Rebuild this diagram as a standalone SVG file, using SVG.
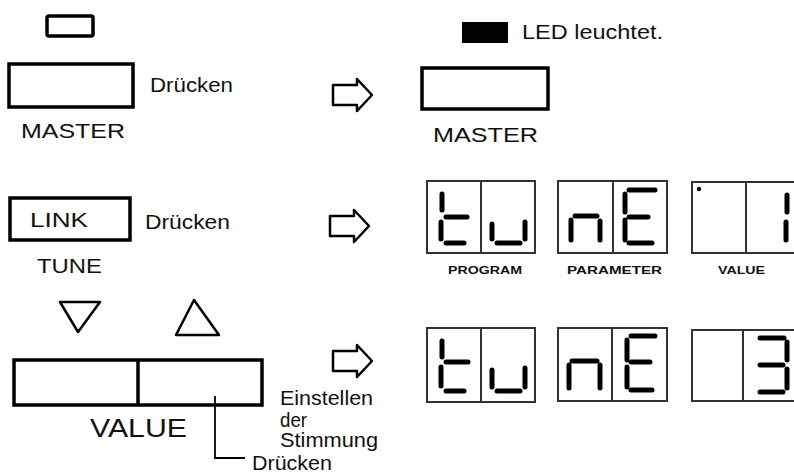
<svg xmlns="http://www.w3.org/2000/svg" width="794" height="474" viewBox="0 0 794 474">
<style>
text{font-family:"Liberation Sans",Arial,sans-serif;fill:#111}
.t{font-size:20px}
.lbl{font-size:10px;font-weight:bold}
.btn{fill:none;stroke:#000;stroke-width:3.5}
.disp{fill:none;stroke:#333;stroke-width:2}
.div{stroke:#333;stroke-width:2}
.seg{stroke:#000;stroke-width:5;stroke-linecap:round}
.arr{fill:#fff;stroke:#000;stroke-width:2.5;stroke-linejoin:round}
.tri{fill:none;stroke:#000;stroke-width:2.5;stroke-linejoin:round}
.ln{fill:none;stroke:#000;stroke-width:1.8}
</style>
<defs>
<path id="arrow" d="M0,-10 H24 V-16 L39,0 L24,16 V10 H0 Z"/>
</defs>

<g id="led-indicator">
<rect class="btn" x="47" y="16" width="46" height="20" rx="2"/>
</g>
<g id="master-left">
<rect class="btn" x="9" y="64" width="124" height="43"/>
<text class="t" x="21" y="138" font-size="21" textLength="104" lengthAdjust="spacingAndGlyphs">MASTER</text>
</g>
<text class="t" x="150" y="92" textLength="83" lengthAdjust="spacingAndGlyphs">Drücken</text>

<g id="led-legend">
<rect x="462" y="22" width="46" height="21" fill="#000"/>
<text class="t" x="522" y="39" textLength="141" lengthAdjust="spacingAndGlyphs">LED leuchtet.</text>
</g>
<g id="master-right">
<rect class="btn" x="422" y="68" width="126" height="41"/>
<text class="t" x="433" y="142" font-size="21" textLength="105" lengthAdjust="spacingAndGlyphs">MASTER</text>
</g>

<g id="link-tune">
<rect class="btn" x="10" y="198" width="120" height="42"/>
<text class="t" x="30" y="227" font-size="21" textLength="58" lengthAdjust="spacingAndGlyphs">LINK</text>
<text class="t" x="37" y="273" textLength="65" lengthAdjust="spacingAndGlyphs">TUNE</text>
</g>
<text class="t" x="145" y="229" textLength="85" lengthAdjust="spacingAndGlyphs">Drücken</text>

<g id="value-buttons">
<polygon class="tri" points="60,302 100,302 78,332"/>
<polygon class="tri" points="194,300 176,335 219,335"/>
<rect class="btn" x="14" y="360" width="248" height="45"/>
<line class="btn" x1="138" y1="360" x2="138" y2="405"/>
<text x="90" y="437" font-size="25" textLength="97" lengthAdjust="spacingAndGlyphs">VALUE</text>
</g>
<text class="t" x="280" y="405" font-size="18" textLength="93" lengthAdjust="spacingAndGlyphs">Einstellen</text>
<text class="t" x="280" y="427" font-size="18" textLength="27" lengthAdjust="spacingAndGlyphs">der</text>
<text class="t" x="280" y="447" font-size="18" textLength="98" lengthAdjust="spacingAndGlyphs">Stimmung</text>
<text class="t" x="252" y="470" font-size="16" textLength="80" lengthAdjust="spacingAndGlyphs">Drücken</text>

<g id="connectors">
<use href="#arrow" class="arr" transform="translate(333,95)"/>
<use href="#arrow" class="arr" transform="translate(330,226)"/>
<use href="#arrow" class="arr" transform="translate(333,361)"/>
<polyline class="ln" points="215,396 215,458 245,458"/>
</g>

<g id="display-row1">
<g id="d1-program">
<rect class="disp" x="427" y="181" width="108" height="72"/>
<line class="div" x1="481" y1="181" x2="481" y2="253"/>
<line class="seg" x1="442" y1="194" x2="442" y2="210"/>
<line class="seg" x1="446" y1="217" x2="467" y2="217"/>
<line class="seg" x1="441" y1="222" x2="441" y2="239"/>
<line class="seg" x1="446" y1="243" x2="464" y2="243"/>
<line class="seg" x1="492" y1="224" x2="492" y2="239"/>
<line class="seg" x1="525" y1="222" x2="525" y2="239"/>
<line class="seg" x1="497" y1="243" x2="520" y2="243"/>
<text class="lbl" x="448" y="274" textLength="74" lengthAdjust="spacingAndGlyphs">PROGRAM</text>
</g>
<g id="d1-parameter">
<rect class="disp" x="558" y="181" width="109" height="72"/>
<line class="div" x1="613" y1="181" x2="613" y2="253"/>
<line class="seg" x1="571" y1="220" x2="571" y2="240"/>
<line class="seg" x1="575" y1="216" x2="597" y2="216"/>
<line class="seg" x1="600" y1="221" x2="600" y2="240"/>
<line class="seg" x1="625" y1="194" x2="625" y2="212"/>
<line class="seg" x1="625" y1="220" x2="625" y2="240"/>
<line class="seg" x1="629" y1="190" x2="655" y2="190"/>
<line class="seg" x1="629" y1="217" x2="648" y2="217"/>
<line class="seg" x1="629" y1="243" x2="652" y2="243"/>
<text class="lbl" x="567" y="274" textLength="95" lengthAdjust="spacingAndGlyphs">PARAMETER</text>
</g>
<g id="d1-value">
<rect class="disp" x="692" y="182" width="110" height="71" stroke="#000"/>
<line class="div" x1="746" y1="182" x2="746" y2="253" stroke="#000"/>
<circle cx="699" cy="189" r="2.2" fill="#000"/>
<line class="seg" x1="787" y1="195" x2="787" y2="212"/>
<line class="seg" x1="786" y1="222" x2="786" y2="240"/>
<text class="lbl" x="718" y="274" textLength="47" lengthAdjust="spacingAndGlyphs">VALUE</text>
</g>
</g>

<g id="display-row2">
<g id="d2-program">
<rect class="disp" x="427" y="328" width="108" height="74"/>
<line class="div" x1="481" y1="328" x2="481" y2="402"/>
<line class="seg" x1="442" y1="341" x2="442" y2="357"/>
<line class="seg" x1="446" y1="362" x2="468" y2="362"/>
<line class="seg" x1="441" y1="367" x2="441" y2="386"/>
<line class="seg" x1="446" y1="391" x2="464" y2="391"/>
<line class="seg" x1="492" y1="370" x2="492" y2="387"/>
<line class="seg" x1="525" y1="368" x2="525" y2="387"/>
<line class="seg" x1="497" y1="391" x2="520" y2="391"/>
</g>
<g id="d2-parameter">
<rect class="disp" x="558" y="328" width="109" height="73"/>
<line class="div" x1="612" y1="328" x2="612" y2="401"/>
<line class="seg" x1="569" y1="365" x2="569" y2="388"/>
<line class="seg" x1="572" y1="361" x2="597" y2="361"/>
<line class="seg" x1="600" y1="365" x2="600" y2="388"/>
<line class="seg" x1="627" y1="340" x2="627" y2="360"/>
<line class="seg" x1="627" y1="367" x2="627" y2="387"/>
<line class="seg" x1="631" y1="336" x2="655" y2="336"/>
<line class="seg" x1="631" y1="362" x2="650" y2="362"/>
<line class="seg" x1="631" y1="390" x2="652" y2="390"/>
</g>
<g id="d2-value">
<rect class="disp" x="692" y="330" width="110" height="71"/>
<line class="div" x1="743" y1="330" x2="743" y2="401"/>
<line class="seg" x1="760" y1="338" x2="784" y2="338"/>
<line class="seg" x1="787" y1="342" x2="787" y2="360"/>
<line class="seg" x1="760" y1="365" x2="783" y2="365"/>
<line class="seg" x1="787" y1="369" x2="787" y2="388"/>
<line class="seg" x1="760" y1="392" x2="783" y2="392"/>
</g>
</g>
</svg>
